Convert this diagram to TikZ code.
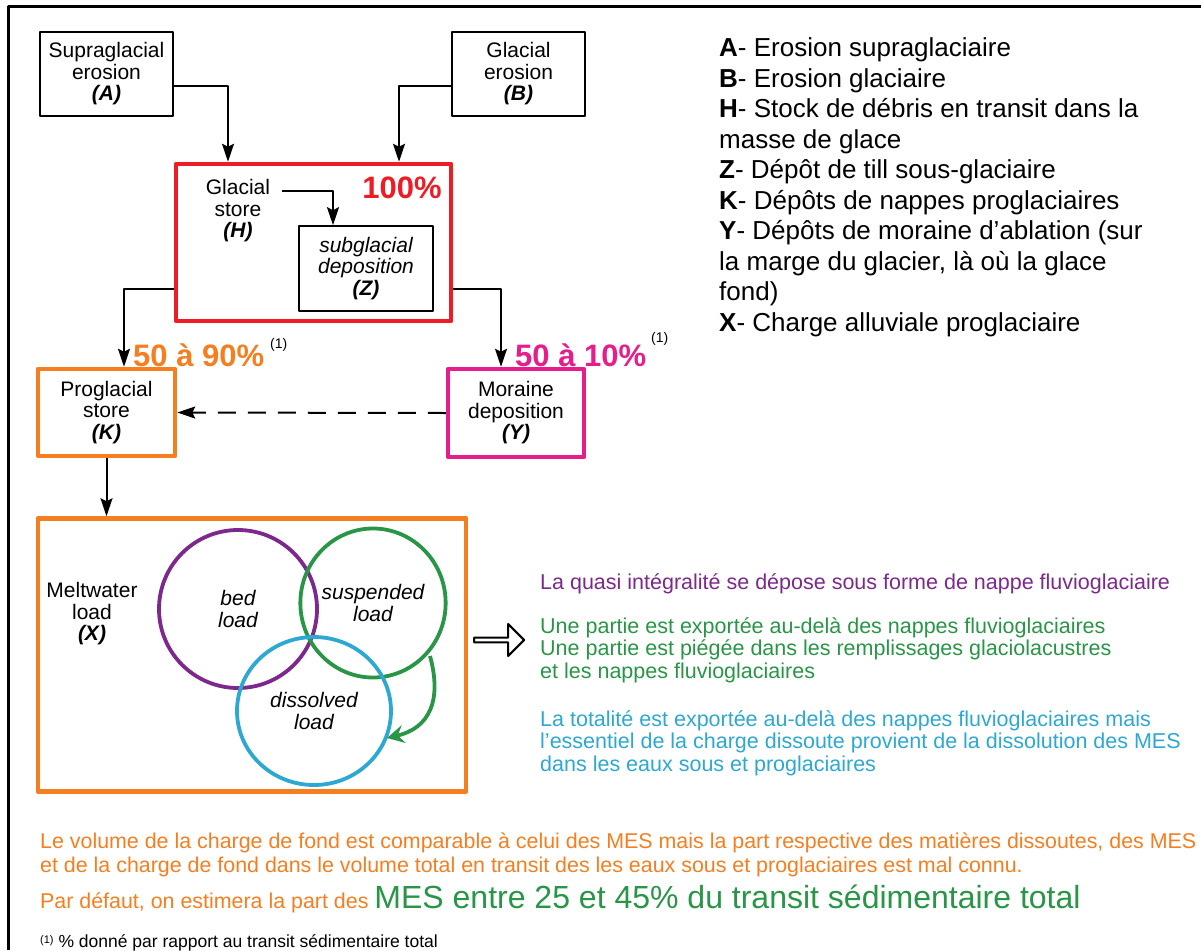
\documentclass[tikz,border=0pt]{standalone}
\usepackage{fontspec}
\setmainfont{Liberation Sans}
\usetikzlibrary{arrows.meta,shapes.geometric,shapes.arrows}
\definecolor{redH}{RGB}{238,28,36}
\definecolor{orangeK}{RGB}{245,126,32}
\definecolor{pinkY}{RGB}{230,30,140}
\definecolor{purpleB}{RGB}{125,40,140}
\definecolor{greenS}{RGB}{40,150,70}
\definecolor{blueD}{RGB}{45,168,210}
\newcommand{\fs}[2]{\fontsize{#1}{#2}\selectfont}
\begin{document}
\begin{tikzpicture}[x=1pt,y=-1pt,line join=round,>={Stealth[length=18pt,width=12pt,inset=3pt]},
  box/.style={draw,line width=1.6pt,align=center,inner sep=0pt,font=\fs{21}{21.5}},
  store/.style={draw,line width=4.5pt,inner sep=0pt},
  arr/.style={->,line width=2pt},
  pct/.style={font=\bfseries\fs{31}{31},inner sep=0pt},
  sup/.style={font=\fs{14}{14},inner sep=0pt},
  ring/.style={ellipse,line width=3.8pt,inner sep=0pt,align=center,font=\itshape\fs{21}{21.5}},
  note/.style={align=left,inner sep=0pt,anchor=north west,font=\fs{21.5}{22.7}}]
\useasboundingbox (0,0) rectangle (1201,950);
% frame
\draw[line width=3pt] (8,950) -- (8,7) -- (1201,7);
% sources
\node[box,minimum width=133pt,minimum height=84pt] (A) at (106.5,74) {Supraglacial\\erosion\\\textbf{\textit{(A)}}};
\node[box,minimum width=133pt,minimum height=84pt] (B) at (518.5,74) {Glacial\\erosion\\\textbf{\textit{(B)}}};
% glacial store
\node[store,draw=redH,minimum width=275pt,minimum height=157pt] (H) at (313.5,242.5) {};
\node[align=center,inner sep=0pt,font=\fs{21}{21.5}] (Htxt) at (238,211) {Glacial\\store\\\textbf{\textit{(H)}}};
\node[pct,text=redH] (p100) at (402,188) {100\%};
\node[box,minimum width=134pt,minimum height=85pt,font=\itshape\fs{21}{21.5}] (Z) at (366,268.5) {subglacial\\deposition\\\textbf{(Z)}};
\coordinate (gs) at (282,191);
\draw[arr] (A.east |- 0,86) -| ([xshift=-85.5pt]H.north);
\draw[arr] (B.west |- 0,86) -| ([xshift=85.5pt]H.north);
\draw[arr] (gs) -| ([xshift=-33pt]Z.north);
% proglacial and moraine
\node[store,draw=orangeK,minimum width=137pt,minimum height=87pt,align=center,font=\fs{21}{21.5}] (K) at (106.5,412.5) {Proglacial\\store\\\textbf{\textit{(K)}}};
\node[store,draw=pinkY,minimum width=136pt,minimum height=88pt,align=center,font=\fs{21}{21.5}] (Y) at (516,413) {Moraine\\deposition\\\textbf{\textit{(Y)}}};
\draw[arr] (H.west |- 0,289) -| ([xshift=17.5pt]K.north);
\draw[arr] (H.east |- 0,289) -| ([xshift=-15pt]Y.north);
\draw[arr,dash pattern=on 18pt off 12pt] (Y.west) -- (K.east);
\node[pct,text=orangeK,anchor=west] (p90) at (133,355) {50 à 90\%};
\node[sup,anchor=west] at (270,345) {(1)};
\node[pct,text=pinkY,anchor=west] (p10) at (515,355) {50 à 10\%};
\node[sup,anchor=west] at (651,339) {(1)};
% meltwater load
\node[store,draw=orangeK,minimum width=428pt,minimum height=273pt] (X) at (252,655) {};
\draw[arr] (K.south) -- (K.south |- X.north);
\node[align=center,inner sep=0pt,font=\fs{21}{21.5}] (Xtxt) at (92,614) {Meltwater\\load\\\textbf{\textit{(X)}}};
\node[ring,draw=purpleB,minimum width=158pt,minimum height=158pt] (bed) at (238,609) {bed\\load};
\node[ring,draw=greenS,minimum width=140pt,minimum height=149pt] (sus) at (373,603) {suspended\\load};
\node[ring,draw=blueD,minimum width=154pt,minimum height=148pt] (dis) at (314,711) {dissolved\\load};
\coordinate (ga) at (430,656);
\coordinate (gb) at (387,738);
\draw[greenS,line width=3.8pt,-{Stealth[length=17pt,width=18pt,inset=6pt]}] (ga) .. controls (442,700) and (430,728) .. (gb);
\node[single arrow,draw,line width=2pt,minimum height=50pt,minimum width=32pt,single arrow head extend=6pt,inner sep=0pt] (out) at (498,640) {};
% fate of each load
\node[note,text=purpleB] (fbed) at (540,573) {La quasi intégralité se dépose sous forme de nappe fluvioglaciaire};
\node[note,text=greenS] (fsus) at (540,617) {Une partie est exportée au-delà des nappes fluvioglaciaires\\Une partie est piégée dans les remplissages glaciolacustres\\et les nappes fluvioglaciaires};
\node[note,text=blueD] (fdis) at (540,710) {La totalité est exportée au-delà des nappes fluvioglaciaires mais\\l’essentiel de la charge dissoute provient de la dissolution des MES\\dans les eaux sous et proglaciaires};
% legend
\node[note,font=\fs{26}{30.5}] (leg) at (719,37.5) {\textbf{A}- Erosion supraglaciaire\\\textbf{B}- Erosion glaciaire\\\textbf{H}- Stock de débris en transit dans la\\masse de glace\\\textbf{Z}- Dépôt de till sous-glaciaire\\\textbf{K}- Dépôts de nappes proglaciaires\\\textbf{Y}- Dépôts de moraine d’ablation (sur\\la marge du glacier, là où la glace\\fond)\\\textbf{X}- Charge alluviale proglaciaire};
% bottom remarks
\node[note,text=orangeK,font=\fs{21.4}{24}] (rem) at (40,833) {Le volume de la charge de fond est comparable à celui des MES mais la part respective des matières dissoutes, des MES\\et de la charge de fond dans le volume total en transit des les eaux sous et proglaciaires est mal connu.};
\node[inner sep=0pt,anchor=base west,text=orangeK,font=\fs{21.4}{24}] (def) at (40,908) {Par défaut, on estimera la part des {\color{greenS}\fs{32}{34}MES entre 25 et 45\% du transit sédimentaire total}};
\node[inner sep=0pt,anchor=base west,font=\fs{17.5}{20}] (foot) at (40,947) {\raisebox{4pt}{\fs{11}{12}(1)} \% donné par rapport au transit sédimentaire total};
\end{tikzpicture}
\end{document}
